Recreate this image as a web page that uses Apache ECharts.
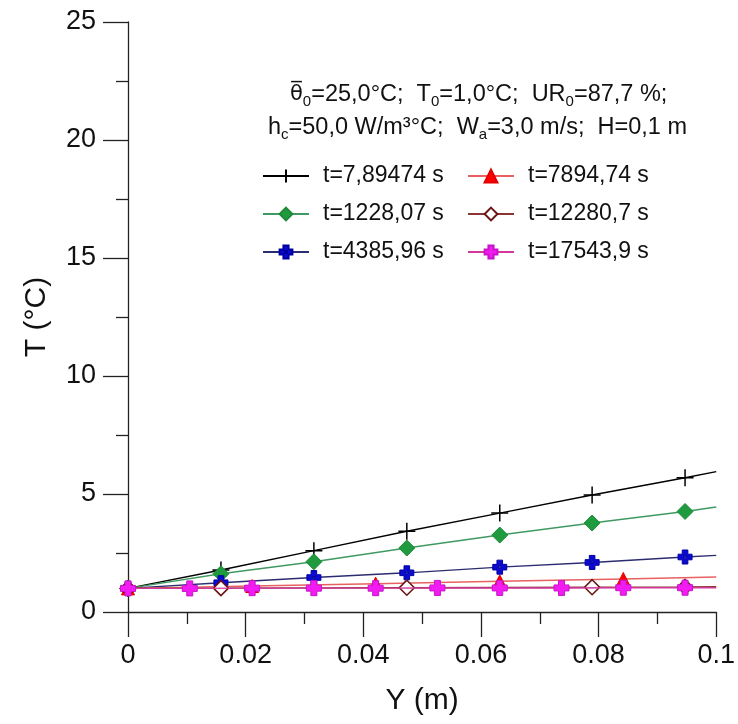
<!DOCTYPE html>
<html>
<head>
<meta charset="utf-8">
<script src="https://cdn.jsdelivr.net/npm/echarts@6/dist/echarts.min.js"></script>
<style>
html,body{margin:0;padding:0;background:#fff;}
#chart{width:738px;height:724px;}
</style>
</head>
<body>
<div id="chart"></div>
<script>
// ---- data ----
const seriesNames = ['t=7,89474 s','t=1228,07 s','t=4385,96 s','t=7894,74 s','t=12280,7 s','t=17543,9 s'];
// x positions (m); last point of each array is the line end (no marker)
const xBlack = [0, 0.0158, 0.0316, 0.0474, 0.0632, 0.0789, 0.0947, 0.1];
const tBlack = [1.0, 1.78, 2.6, 3.42, 4.19, 4.96, 5.69, 5.95];
const xGreen = [0, 0.0158, 0.0316, 0.0474, 0.0632, 0.0789, 0.0947, 0.1];
const tGreen = [1.0, 1.62, 2.13, 2.71, 3.26, 3.77, 4.26, 4.45];
const xBlue = [0, 0.0158, 0.0316, 0.0474, 0.0632, 0.0789, 0.0947, 0.1];
const tBlue = [1.0, 1.24, 1.46, 1.66, 1.9, 2.1, 2.33, 2.4];
const xRed = [0, 0.0211, 0.0421, 0.0632, 0.0842, 0.1];
const tRed = [1.0, 1.1, 1.2, 1.3, 1.4, 1.48];
const xBrown = [0, 0.0158, 0.0474, 0.0789, 0.0947, 0.1];
const tBrown = [1.0, 1.01, 1.03, 1.05, 1.06, 1.07];
const xPink = [0, 0.0105, 0.0211, 0.0316, 0.0421, 0.0526, 0.0632, 0.0737, 0.0842, 0.0947, 0.1];
const tPink = [1.0, 1.0, 1.01, 1.01, 1.01, 1.02, 1.02, 1.02, 1.03, 1.03, 1.03];
const xTicks = { min: 0, max: 0.1, interval: 0.02 };
const yTicks = { min: 0, max: 25, interval: 5 };

function build(xs, ts) {
  return xs.map((x, i) => i === xs.length - 1
    ? { value: [x, ts[i]], symbol: 'none' }
    : { value: [x, ts[i]] });
}

const FONT = '"Liberation Sans", Arial, sans-serif';
const plusPath = 'path://M5,0L5,10M0,5L10,5';
const crossHole = 'path://M3,0H7V3H10V7H7V10H3V7H0V3H3Z M4.2,4.2V5.8H5.8V4.2Z';
const crossFull = 'path://M3,0H7V3H10V7H7V10H3V7H0V3H3Z';

const styles = [
  { data: build(xBlack, tBlack), line: '#000000', symbol: plusPath, size: 17, fill: '#000000', border: '#000000', bw: 1.5 },
  { data: build(xGreen, tGreen), line: '#3f9a62', symbol: 'diamond', size: 16, fill: '#1f9a3e', border: '#1f8a3a', bw: 1 },
  { data: build(xBlue, tBlue), line: '#2c2c70', symbol: crossHole, size: 14, fill: '#0a0ad0', border: '#0000a0', bw: 1 },
  { data: build(xRed, tRed), line: '#e86060', symbol: 'triangle', size: 13, fill: '#ff0000', border: '#e00000', bw: 1 },
  { data: build(xBrown, tBrown), line: '#8c3434', symbol: 'diamond', size: 15, fill: '#ffffff', border: '#6a1414', bw: 1.6 },
  { data: build(xPink, tPink), line: '#d2389a', symbol: crossFull, size: 15, fill: '#f21cf2', border: '#c814c8', bw: 1 }
];

const series = styles.map((s, i) => ({
  name: seriesNames[i],
  type: 'line',
  data: s.data,
  symbol: s.symbol,
  symbolSize: s.size,
  showAllSymbol: true,
  lineStyle: { color: s.line, width: 1.4 },
  itemStyle: { color: s.fill, borderColor: s.border, borderWidth: s.bw },
  emphasis: { disabled: true },
  z: 2 + i,
  animation: false
}));

const chart = echarts.init(document.getElementById('chart'), null, { renderer: 'canvas' });
chart.setOption({
  backgroundColor: '#ffffff',
  animation: false,
  grid: { left: 128, right: 21, top: 22, bottom: 112, containLabel: false },
  xAxis: {
    type: 'value', min: xTicks.min, max: xTicks.max, interval: xTicks.interval,
    name: 'Y (m)', nameLocation: 'middle', nameGap: 74,
    nameTextStyle: { fontFamily: FONT, fontSize: 30, color: '#111' },
    axisLine: { onZero: false, lineStyle: { color: '#222', width: 1.3 } },
    axisTick: { show: true, length: 25, lineStyle: { color: '#222', width: 1.3 } },
    minorTick: { show: true, splitNumber: 2, length: 12, lineStyle: { color: '#222', width: 1.3 } },
    axisLabel: { fontFamily: FONT, fontSize: 27, color: '#111', margin: 30,
      formatter: v => String(Math.round(v * 100) / 100) },
    splitLine: { show: false }
  },
  yAxis: {
    type: 'value', min: yTicks.min, max: yTicks.max, interval: yTicks.interval,
    name: 'T (°C)', nameLocation: 'middle', nameGap: 76, nameRotate: 90,
    nameTextStyle: { fontFamily: FONT, fontSize: 30, color: '#111' },
    axisLine: { onZero: false, lineStyle: { color: '#222', width: 1.3 } },
    axisTick: { show: true, length: 25, lineStyle: { color: '#222', width: 1.3 } },
    minorTick: { show: true, splitNumber: 2, length: 12, lineStyle: { color: '#222', width: 1.3 } },
    axisLabel: { fontFamily: FONT, fontSize: 27, color: '#111', margin: 32 },
    splitLine: { show: false }
  },
  legend: [
    {
      data: seriesNames.slice(0, 3), orient: 'vertical', left: 257, top: 159,
      itemWidth: 46, itemHeight: 16, itemGap: 14,
      textStyle: { fontFamily: FONT, fontSize: 23, color: '#111', lineHeight: 24, padding: [0, 0, 0, 9] },
      selectedMode: false
    },
    {
      data: seriesNames.slice(3), orient: 'vertical', left: 462, top: 159,
      itemWidth: 46, itemHeight: 16, itemGap: 14,
      textStyle: { fontFamily: FONT, fontSize: 23, color: '#111', lineHeight: 24, padding: [0, 0, 0, 9] },
      selectedMode: false
    }
  ],
  graphic: [
    {
      type: 'text', left: 290, top: 83, silent: true,
      style: {
        text: '{g|θ\u0305}{s|0}{n|=25,0°C;  T}{s|0}{n|=1,0°C;  UR}{s|0}{n|=87,7 %;}',
        rich: {
          g: { fontFamily: '"DejaVu Sans", sans-serif', fontSize: 21, lineHeight: 28, fill: '#111' },
          n: { fontFamily: FONT, fontSize: 23.5, lineHeight: 28, fill: '#111' },
          s: { fontFamily: FONT, fontSize: 15, lineHeight: 14, verticalAlign: 'bottom', fill: '#111' }
        }
      }
    },
    {
      type: 'text', left: 268, top: 116, silent: true,
      style: {
        text: '{n|h}{s|c}{n|=50,0 W/m³°C;  W}{s|a}{n|=3,0 m/s;  H=0,1 m}',
        rich: {
          n: { fontFamily: FONT, fontSize: 23.5, lineHeight: 28, fill: '#111' },
          s: { fontFamily: FONT, fontSize: 15, lineHeight: 14, verticalAlign: 'bottom', fill: '#111' }
        }
      }
    }
  ],
  series: series
});
</script>
</body>
</html>
